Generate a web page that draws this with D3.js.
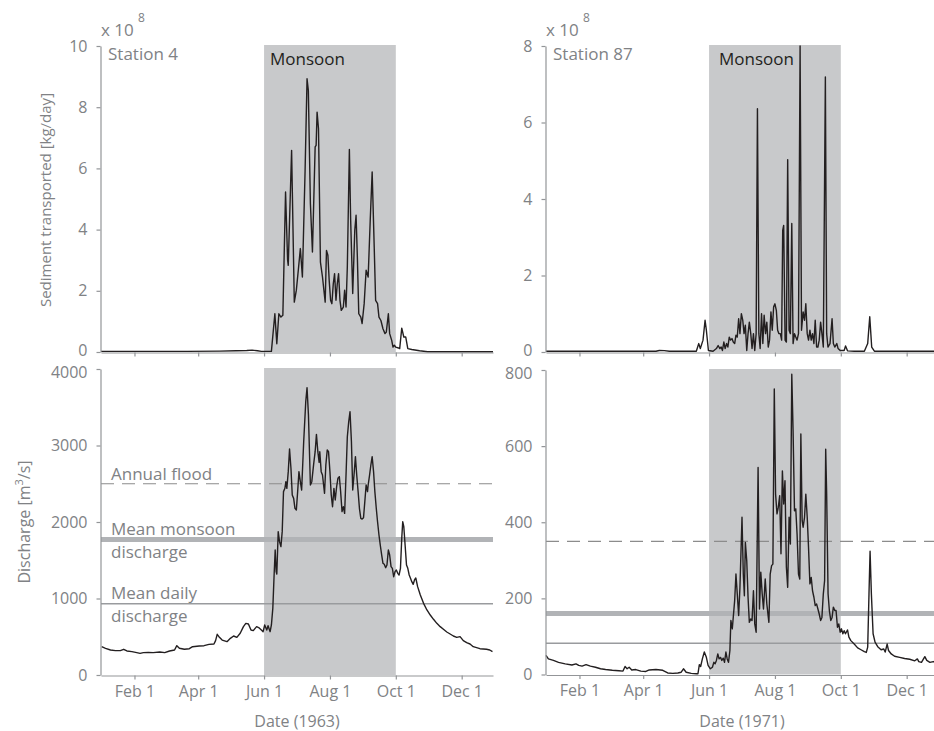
<!DOCTYPE html>
<html><head><meta charset="utf-8">
<script src="https://cdn.jsdelivr.net/npm/d3@7"></script>
<style>
body{margin:0;background:#fff}
text{font-family:"Open Sans",sans-serif}
</style>
</head><body>
<svg id="chart" width="934" height="731"></svg>
<script>
// ---------- data (day of year, value) ----------
const monthTickDays = [31, 90, 151, 212, 273, 334];
const monthTickLabels = ["Feb 1", "Apr 1", "Jun 1", "Aug 1", "Oct 1", "Dec 1"];
const monsoonDays = [151, 273];
const sedimentTicksS4 = [0, 2, 4, 6, 8, 10];
const sedimentTicksS87 = [0, 2, 4, 6, 8];
const dischargeTicksS4 = [0, 1000, 2000, 3000, 4000];
const dischargeTicksS87 = [0, 200, 400, 600, 800];
const refLevelsS4 = [2500, 1770, 930];   // annual flood, mean monsoon, mean daily
const refLevelsS87 = [350, 160, 82];
const refLabels = [["Annual flood"], ["Mean monsoon", "discharge"], ["Mean daily", "discharge"]];
const stationNames = ["Station 4", "Station 87"];
const yearLabels = ["Date (1963)", "Date (1971)"];

// Station 4 sediment (x 10^8 kg/day)
const sedimentS4 = [[0,0.02],[40,0.02],[80,0.02],[110,0.03],[125,0.04],[135,0.05],[140,0.06],[145,0.04],[148.5,0.02],[157.8,0.02],[161,1.25],[162.8,0.27],[164.7,1.25],[166.6,1.14],[168.4,1.2],[170.9,5.23],[172.8,3.0],[173.4,2.83],[176.5,6.59],[179,1.63],[180.9,2.02],[182.7,2.67],[184.6,3.38],[186.5,2.45],[189,5.94],[190.8,8.93],[192,8.55],[193.9,4.85],[195.8,3.27],[198.3,6.7],[199.2,6.75],[200.1,7.84],[201.4,7.3],[203.2,2.94],[205.1,2.45],[206.4,2.02],[207.6,1.63],[208.8,3.32],[210.1,3.16],[211.3,2.34],[212.6,1.69],[213.8,1.58],[215.1,2.23],[216.3,2.56],[217.6,1.69],[218.8,2.23],[220,2.56],[221.3,1.69],[222.5,1.36],[224.4,1.47],[225.6,2.02],[226.9,1.47],[228.1,2.78],[230,6.62],[231.2,4.3],[233.1,1.91],[235,3.98],[236.2,4.47],[237.4,3.1],[238.7,1.25],[240.6,1.14],[241.8,0.93],[243.7,1.58],[245.5,2.67],[247.4,2.45],[249.3,4.3],[251.1,5.88],[253,3.43],[254.3,1.69],[256.1,1.58],[257.4,1.14],[259.2,1.03],[261.1,0.76],[263,0.6],[264.2,0.65],[266.1,1.25],[267.3,0.6],[269.2,0.38],[270.4,0.16],[271.7,0.22],[272.9,0.16],[274.8,0.14],[276.6,0.11],[278.5,0.78],[280.4,0.49],[282.2,0.49],[284.1,0.11],[287.8,0.08],[295,0.04],[302.5,0.01],[363,0.01]];

// Station 4 discharge (m3/s)
const dischargeS4 = [[0.6,370],[4.2,349],[8.8,327],[13.4,318],[17.9,318],[21,336],[24,314],[28.6,305],[33.1,292],[36.2,283],[39.2,292],[43.8,296],[48.3,292],[54.4,301],[59,292],[63.5,314],[68.1,327],[70.2,383],[72.6,349],[77.2,336],[81.8,344],[84.8,370],[90.9,379],[95.4,383],[100,401],[104.6,405],[106.1,449],[107.6,532],[109.2,501],[112.2,457],[116.7,436],[119.8,479],[122.8,510],[125.8,492],[128.9,545],[131.9,632],[134.1,675],[136.5,667],[138.9,588],[141,580],[144.1,632],[146,620],[148.5,588],[150.1,566],[151.6,654],[153.5,588],[154.7,645],[156.6,566],[157.8,654],[159.1,871],[160.3,1307],[161.3,1634],[162.2,1351],[162.8,1320],[164.1,1874],[165.3,1743],[166.6,1678],[167.8,1874],[169,2397],[170.3,2440],[171.2,2527],[172.1,2440],[173.4,2658],[174.6,2954],[175.9,2702],[177.1,2353],[178.4,2309],[179.6,2179],[180.9,2157],[182.1,2397],[183.3,2658],[184.6,2527],[185.8,2418],[187.7,3050],[189.6,3573],[190.8,3756],[192.1,3399],[193.9,2484],[195.2,2527],[197,2767],[198.3,2919],[199.5,3146],[200.8,2919],[202,2780],[202.6,2919],[203.9,2658],[205.1,2614],[207,2375],[208.2,2745],[209.5,2941],[210.7,2919],[212,2658],[213.2,2353],[214.4,2200],[215.7,2440],[216.9,2288],[218.2,2462],[219.4,2571],[220.7,2593],[221.9,2397],[223.2,2135],[224.4,2200],[225.6,2113],[226.9,2614],[228.1,3115],[229.4,3312],[230.6,3442],[231.9,3050],[233.1,2418],[234.3,2614],[235.6,2854],[236.8,2614],[238.1,2397],[239.3,2179],[240.6,2048],[241.8,2039],[243.1,2057],[244.3,2266],[245.5,2484],[246.8,2397],[247.4,2484],[248.7,2614],[249.9,2745],[251.1,2854],[252.4,2658],[253.6,2397],[254.9,2179],[256.1,2004],[257.4,1830],[258.6,1699],[259.9,1569],[261.1,1460],[262.3,1447],[263.6,1403],[264.8,1438],[266.1,1634],[267.3,1569],[268.6,1416],[269.8,1394],[271,1285],[272.3,1351],[273.5,1373],[274.8,1329],[276,1307],[277.3,1394],[278.5,1786],[279.4,2004],[280.4,1939],[281.6,1699],[282.9,1438],[284.1,1394],[285.4,1307],[286.6,1264],[287.8,1220],[289.1,1185],[290.3,1242],[291.5,1268],[293.2,1155],[295.7,1046],[298.7,937],[301.8,850],[304.9,784],[307.9,728],[311,675],[314.1,632],[317.1,597],[320.2,562],[323.3,536],[326.3,510],[329.4,492],[332.5,501],[335.5,449],[338.6,423],[341.7,405],[344.7,370],[347.8,357],[350.9,344],[353.9,340],[357,336],[360,327],[362.5,305]];

// Station 87 sediment (x 10^8 kg/day)
const sedimentS87 = [[0,0.02],[101.8,0.02],[104.9,0.04],[109.6,0.035],[114.3,0.02],[139.2,0.02],[141.4,0.22],[142.9,0.09],[145.4,0.31],[147.3,0.83],[148.5,0.57],[150.4,0.04],[154.7,0.02],[157.8,0.09],[159.4,0.17],[161,0.09],[162.2,0.13],[163.4,0.04],[164.7,0.26],[165.9,0.09],[167.2,0.22],[168.4,0.13],[169.7,0.39],[170.9,0.31],[172.2,0.35],[173.4,0.26],[174.7,0.22],[175.9,0.44],[177.1,0.39],[178.4,0.87],[179.6,0.48],[180.9,1.0],[182.2,0.83],[183.4,0.48],[184.6,0.7],[185.9,0.04],[187.1,0.48],[188.3,0.78],[189.6,0.48],[190.8,0.09],[192.1,0.48],[193.3,0.04],[194.6,0.48],[195.8,6.36],[197.1,0.48],[198.3,0.09],[199.6,1.0],[200.8,0.22],[202,0.96],[203.3,0.48],[204.5,0.78],[205.8,0.13],[207,0.31],[208.3,1.05],[209.5,0.57],[210.8,1.18],[212,1.26],[213.3,1.09],[214.5,0.57],[215.7,0.48],[217,0.48],[218.2,0.31],[219.2,3.18],[220.1,3.31],[221.4,0.31],[222.6,0.26],[223.8,5.03],[225.1,0.57],[226.3,0.48],[227.6,3.36],[228.8,0.22],[230.1,0.48],[231.3,0.39],[232.5,0.31],[233.8,0.48],[235.3,8.0],[236.6,0.57],[238.1,1.05],[239.4,0.83],[240.6,1.26],[241.9,0.48],[243.1,0.31],[244.4,0.57],[245.6,0.31],[246.8,0.48],[248.1,0.22],[249.3,0.83],[250.6,0.13],[251.8,0.13],[253,0.31],[254.3,0.78],[255.5,0.48],[256.8,0.13],[258.7,7.19],[259.9,0.48],[261.1,0.13],[263,0.22],[264.9,0.87],[266.1,0.22],[267.4,0.13],[269.3,0.22],[270.5,0.09],[272.4,0.04],[274.2,0.04],[276.1,0.04],[277.4,0.16],[279.2,0.03],[285.4,0.02],[294.8,0.02],[297.9,0.22],[299.8,0.92],[301.6,0.13],[304.1,0.02],[316.6,0.02],[363,0.02]];

// Station 87 discharge (m3/s)
const dischargeS87 = [[0,50],[2.2,41],[6.9,37],[11.6,32],[17.8,28],[24,25],[27.8,28],[30.3,24],[33.4,22],[37.1,26],[41.1,22],[45.8,19],[50.5,15],[55.2,13],[61.4,11],[67.6,10],[71.3,9],[73.2,21],[75.1,15],[77,19],[79.4,12],[83.2,13],[87.8,9],[92.5,8],[95.6,12],[101.8,13],[108.1,11],[112.7,4],[117.4,3],[122.1,4],[125.2,6],[127.3,15],[129.8,6],[134.5,3],[139.2,2],[140.7,2],[142,26],[143.2,21],[144.8,41],[146.6,59],[148.5,45],[150.1,24],[152.2,15],[154.1,19],[155.4,32],[156.6,28],[157.8,37],[159.1,54],[160.3,41],[161.6,45],[162.8,37],[164.1,43],[165.3,32],[166.6,59],[167.8,41],[169,32],[170.3,63],[171.2,142],[172.5,120],[173.4,150],[174.7,194],[175.9,264],[177.1,212],[178.4,155],[179.6,229],[181.5,413],[182.7,264],[183.7,207],[184.6,347],[185.9,299],[187.1,203],[188.3,137],[189.6,146],[190.8,142],[192.1,220],[193.3,133],[194.6,111],[196.4,544],[197.7,172],[198.9,269],[200.2,212],[201.4,172],[203,251],[204.5,185],[206.4,137],[207.6,264],[208.9,286],[210.1,290],[211.4,750],[212.6,474],[213.9,422],[215.1,439],[216.4,470],[217.6,317],[218.9,535],[220.1,448],[221.3,509],[222.6,282],[223.8,229],[225.1,413],[226.3,343],[227.6,789],[228.8,640],[230.1,430],[231.3,435],[232.5,369],[233.8,264],[235,251],[236,632],[237.2,404],[238.1,387],[239.4,413],[240.6,474],[241.9,413],[243.1,334],[244.4,238],[245.6,255],[246.8,220],[248.1,203],[249.3,181],[250.6,185],[251.8,172],[253,159],[254.3,142],[255.5,150],[256.8,212],[258,247],[259,592],[259.9,474],[261.2,212],[262.4,168],[263.7,142],[264.9,150],[266.1,177],[267.4,168],[268.6,168],[269.9,124],[271.1,133],[272.4,111],[273.6,120],[274.9,107],[276.1,115],[277.3,107],[279.2,117],[280.5,98],[282.3,89],[285.4,80],[288.6,70],[291.7,65],[294.8,60],[296.6,58],[297.9,72],[299.1,212],[300.1,324],[301.3,212],[302.9,107],[304.7,85],[307.2,73],[310.3,65],[312.8,67],[314.1,59],[315.9,80],[317.2,63],[319.7,54],[322.8,48],[327.5,45],[332.1,42],[336.8,40],[341.5,36],[343.9,41],[345.2,34],[347.7,32],[350.8,47],[352.6,37],[355.5,32],[358.6,34],[360.7,32],[363,33]];

// ---------- drawing ----------
const svg = d3.select("#chart");
const AXIS = "#939598", TXT = "#808285", INK = "#231f20", SHADE = "#c8c9cb";

function drawPanel(p) {
  const x = d3.scaleLinear().domain([0, 363]).range([p.x0, p.x1]);
  const y = d3.scaleLinear().domain([0, p.yMax]).range([p.yBot, p.yTop]);
  const g = svg.append("g");

  g.append("rect")
    .attr("x", x(monsoonDays[0])).attr("width", x(monsoonDays[1]) - x(monsoonDays[0]))
    .attr("y", p.yTop - 1).attr("height", p.yBot - p.yTop + 1)
    .attr("fill", SHADE);

  if (p.refs) {
    const styles = [
      {stroke: "#8c8c8c", w: 1.2, dash: "13,8"},
      {stroke: "#b1b3b6", w: 5, dash: null},
      {stroke: "#999b9e", w: 1.5, dash: null}
    ];
    p.refs.forEach((v, i) => {
      g.append("line")
        .attr("x1", p.x0).attr("x2", p.x1)
        .attr("y1", y(v)).attr("y2", y(v))
        .attr("stroke", styles[i].stroke).attr("stroke-width", styles[i].w)
        .attr("stroke-dasharray", styles[i].dash);
    });
    if (p.refText) {
      const offs = [[-4], [-5, 18], [-5, 18]];
      p.refs.forEach((v, i) => {
        refLabels[i].forEach((t, j) => {
          g.append("text").attr("x", p.x0 + 10).attr("y", y(v) + offs[i][j])
            .attr("fill", TXT).style("font-size", "17px").text(t);
        });
      });
    }
  }

  const line = d3.line().x(d => x(d[0])).y(d => y(Math.min(d[1], p.yMax))).curve(d3.curveLinear);
  g.append("path").datum(p.data).attr("d", line)
    .attr("fill", "none").attr("stroke", INK).attr("stroke-width", 1.4)
    .attr("stroke-linejoin", "round");

  const ya = g.append("g").attr("transform", `translate(${p.x0 - 0.5},0)`)
    .call(d3.axisLeft(y).tickValues(p.ticks).tickFormat(d3.format("d"))
      .tickSize(4).tickSizeOuter(0).tickPadding(9));
  const xa = g.append("g").attr("transform", `translate(0,${p.yBot + 0.5})`)
    .call(d3.axisBottom(x).tickValues(monthTickDays)
      .tickFormat((d, i) => p.showX ? monthTickLabels[i] : "")
      .tickSize(4).tickSizeOuter(0).tickPadding(6));
  [ya, xa].forEach(a => {
    a.select(".domain").attr("stroke", AXIS).attr("stroke-width", 1.2);
    a.selectAll(".tick line").attr("stroke", AXIS).attr("stroke-width", 1.2);
    a.selectAll(".tick text").attr("fill", TXT).style("font-size", "16px")
      .style("font-family", '"Open Sans", sans-serif');
  });
  // keep the stacked panels' end labels apart (as in the reference)
  ya.selectAll(".tick text").filter(d => d === p.ticks[0] && !p.showX).attr("dy", "0.2em");
  ya.selectAll(".tick text").filter(d => d === p.ticks[p.ticks.length - 1] && p.showX).attr("dy", "0.5em");

  if (p.station) {
    g.append("text").attr("x", p.x0 + 7).attr("y", p.yTop + 14)
      .attr("fill", TXT).style("font-size", "17px").text(p.station);
    g.append("text").attr("x", p.x0).attr("y", p.yTop - 10.5)
      .attr("fill", TXT).style("font-size", "17px").text("x 10");
    g.append("text").attr("x", p.x0 + 37).attr("y", p.yTop - 24)
      .attr("fill", TXT).style("font-size", "12px").text("8");
    g.append("text").attr("x", x(monsoonDays[0]) + p.monOff).attr("y", p.yTop + 18.5)
      .attr("fill", INK).style("font-size", "17px").text("Monsoon");
  }
  if (p.xTitle) {
    g.append("text").attr("x", (p.x0 + p.x1) / 2).attr("y", 727)
      .attr("text-anchor", "middle").attr("fill", TXT).style("font-size", "16px").text(p.xTitle);
  }
}

drawPanel({x0: 101, x1: 493, yTop: 46, yBot: 352, yMax: 10, ticks: sedimentTicksS4, data: sedimentS4, station: stationNames[0], monOff: 6});
drawPanel({x0: 546, x1: 938, yTop: 46, yBot: 352, yMax: 8, ticks: sedimentTicksS87, data: sedimentS87, station: stationNames[1], monOff: 10});
drawPanel({x0: 101, x1: 493, yTop: 369, yBot: 675, yMax: 4000, ticks: dischargeTicksS4, data: dischargeS4, refs: refLevelsS4, refText: true, showX: true, xTitle: yearLabels[0]});
drawPanel({x0: 546, x1: 938, yTop: 370, yBot: 674.5, yMax: 800, ticks: dischargeTicksS87, data: dischargeS87, refs: refLevelsS87, showX: true, xTitle: yearLabels[1]});

// y-axis titles
svg.append("text").attr("transform", "translate(51,200) rotate(-90)")
  .attr("text-anchor", "middle").attr("fill", TXT).style("font-size", "15px")
  .text("Sediment transported [kg/day]");
const dt = svg.append("text").attr("transform", "translate(30,522) rotate(-90)")
  .attr("text-anchor", "middle").attr("fill", TXT).style("font-size", "16px");
dt.append("tspan").text("Discharge [m");
dt.append("tspan").attr("dy", -7).style("font-size", "11px").text("3");
dt.append("tspan").attr("dy", 7).text("/s]");
</script>
</body></html>
